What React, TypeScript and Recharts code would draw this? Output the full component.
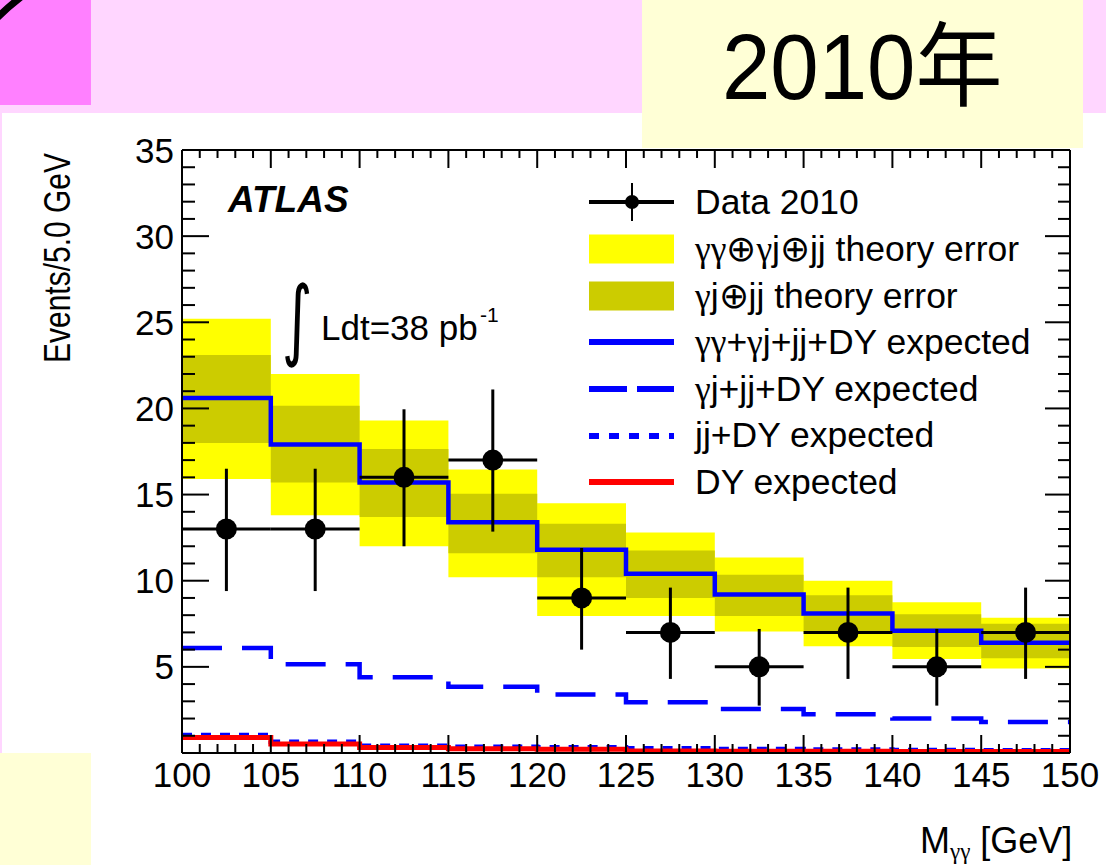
import React from "react";
import { ComposedChart, Area, Line, Scatter, ErrorBar, XAxis, YAxis } from "recharts";

const FONT = '"Liberation Sans", Arial, Helvetica, sans-serif';
const GREEK = '"Liberation Serif", "DejaVu Serif", serif';

// 5 GeV bins in diphoton mass
const binEdges = [100, 105, 110, 115, 120, 125, 130, 135, 140, 145, 150];

// expected yields per bin
const totalExpected = [20.6, 17.9, 15.7, 13.4, 11.8, 10.4, 9.2, 8.1, 7.1, 6.4];
const gjJjDyExpected = [6.1, 5.15, 4.4, 3.85, 3.4, 2.95, 2.55, 2.25, 2.0, 1.8];
const jjDyExpected = [1.05, 0.65, 0.42, 0.37, 0.33, 0.27, 0.23, 0.2, 0.18, 0.16];
const dyExpected = [0.9, 0.52, 0.32, 0.25, 0.22, 0.12, 0.1, 0.1, 0.09, 0.08];

// theory error bands (low / high edge per bin)
const fullErrLow = [15.9, 13.8, 12.0, 10.2, 7.95, 7.95, 7.05, 6.2, 5.45, 4.9];
const fullErrHigh = [25.2, 22.0, 19.3, 16.45, 14.5, 12.8, 11.35, 10.0, 8.75, 7.85];
const redErrLow = [18.0, 15.7, 13.7, 11.6, 10.2, 9.0, 7.95, 7.05, 6.15, 5.5];
const redErrHigh = [23.1, 20.15, 17.65, 15.05, 13.3, 11.75, 10.35, 9.15, 8.05, 7.5];

// Data 2010
const dataMass = [102.5, 107.5, 112.5, 117.5, 122.5, 127.5, 132.5, 137.5, 142.5, 147.5];
const dataEvents = [13, 13, 16, 17, 9, 7, 5, 7, 5, 7];
const dataErrDown = [3.6, 3.6, 4.0, 4.15, 3.0, 2.7, 2.25, 2.7, 2.25, 2.7];
const dataErrUp = [3.5, 3.5, 3.95, 4.1, 2.9, 2.6, 2.2, 2.6, 2.2, 2.6];
const halfBin = 2.5;

const xTicks = Array.from({ length: 51 }, (_, i) => 100 + i);
const yTicks = Array.from({ length: 36 }, (_, i) => i);

// step lines need the last bin value repeated at the closing edge
const histo = binEdges.map((x, i) => {
  const b = Math.min(i, totalExpected.length - 1);
  return {
    x,
    total: totalExpected[b],
    gjjj: gjJjDyExpected[b],
    jj: jjDyExpected[b],
    dy: dyExpected[b],
    full: [fullErrLow[b], fullErrHigh[b]],
    red: [redErrLow[b], redErrHigh[b]],
  };
});

const points = dataMass.map((x, i) => ({
  x,
  y: dataEvents[i],
  ex: halfBin,
  ey: [dataErrDown[i], dataErrUp[i]],
}));

const legendItems = [
  { kind: "data", label: "Data 2010" },
  { kind: "full", label: "γγ⊕γj⊕jj theory error" },
  { kind: "red", label: "γj⊕jj theory error" },
  { kind: "total", label: "γγ+γj+jj+DY expected" },
  { kind: "gjjj", label: "γj+jj+DY expected" },
  { kind: "jj", label: "jj+DY expected" },
  { kind: "dy", label: "DY expected" },
];

const isMajor = (v: number) => v % 5 === 0;

// gamma looks better in the serif face, like the ROOT symbol font
function withGreek(label: string) {
  return label.split(/(γ+)/).map((part, i) =>
    part.startsWith("γ") ? (
      <span key={i} style={{ fontFamily: GREEK }}>
        {part}
      </span>
    ) : (
      <React.Fragment key={i}>{part}</React.Fragment>
    )
  );
}

function LeftTick({ x, y, payload }: any) {
  const v = payload.value;
  return (
    <g>
      <line x1={x} x2={x + (isMajor(v) ? 27 : 13)} y1={y} y2={y} stroke="#000" strokeWidth={2} />
      {isMajor(v) && v > 0 && (
        <text x={x - 8} y={y} textAnchor="end" dominantBaseline="central" fontSize={35} fontFamily={FONT} fill="#000">
          {v}
        </text>
      )}
    </g>
  );
}

function RightTick({ x, y, payload }: any) {
  const v = payload.value;
  return <line x1={x} x2={x - (isMajor(v) ? 25 : 12)} y1={y} y2={y} stroke="#000" strokeWidth={2} />;
}

function BottomTick({ x, y, payload }: any) {
  const v = payload.value;
  return (
    <g>
      <line x1={x} x2={x} y1={y} y2={y - (isMajor(v) ? 18 : 9)} stroke="#000" strokeWidth={2} />
      {isMajor(v) && (
        <text x={x} y={y + 34} textAnchor="middle" fontSize={35} fontFamily={FONT} fill="#000">
          {v}
        </text>
      )}
    </g>
  );
}

function TopTick({ x, y, payload }: any) {
  const v = payload.value;
  return <line x1={x} x2={x} y1={y} y2={y + (isMajor(v) ? 18 : 8)} stroke="#000" strokeWidth={2} />;
}

const dataDot = (props: any) => <circle cx={props.cx} cy={props.cy} r={10.5} fill="#000" />;

function LegendSymbol({ kind }: { kind: string }) {
  const w = 85;
  const h = 46;
  const c = h / 2;
  switch (kind) {
    case "data":
      return (
        <svg width={w} height={h}>
          <line x1={0} x2={w} y1={c} y2={c} stroke="#000" strokeWidth={4} />
          <line x1={43} x2={43} y1={c - 19} y2={c + 19} stroke="#000" strokeWidth={2} />
          <circle cx={43} cy={c} r={7} fill="#000" />
        </svg>
      );
    case "full":
      return (
        <svg width={w} height={h}>
          <rect x={0} y={c - 14.5} width={w} height={29} fill="#FFFF00" />
        </svg>
      );
    case "red":
      return (
        <svg width={w} height={h}>
          <rect x={0} y={c - 14.5} width={w} height={29} fill="#CCCC00" />
        </svg>
      );
    case "total":
      return (
        <svg width={w} height={h}>
          <line x1={0} x2={w} y1={c} y2={c} stroke="#0000FF" strokeWidth={6} />
        </svg>
      );
    case "gjjj":
      return (
        <svg width={w} height={h}>
          <line x1={0} x2={w} y1={c} y2={c} stroke="#0000FF" strokeWidth={6} strokeDasharray="38 10" />
        </svg>
      );
    case "jj":
      return (
        <svg width={w} height={h}>
          <line x1={0} x2={w} y1={c} y2={c} stroke="#0000FF" strokeWidth={6} strokeDasharray="10 10" />
        </svg>
      );
    default:
      return (
        <svg width={w} height={h}>
          <line x1={0} x2={w} y1={c} y2={c} stroke="#FF0000" strokeWidth={6} />
        </svg>
      );
  }
}

export default function App() {
  return (
    <div
      style={{
        position: "absolute",
        left: 0,
        top: 0,
        width: 1106,
        height: 865,
        background: "#fff",
        overflow: "hidden",
        fontFamily: FONT,
      }}
    >
      {/* slide background */}
      <svg width={1106} height={865} style={{ position: "absolute", left: 0, top: 0 }}>
        <rect x={0} y={0} width={1106} height={113} fill="#FFD6FF" />
        <rect x={0} y={0} width={91} height={105} fill="#FF80FF" />
        <rect x={0} y={113} width={2} height={640} fill="#FFD6FF" />
        <rect x={0} y={753} width={91} height={112} fill="#FFFFD6" />
        <rect x={642} y={0} width={441} height={148} fill="#FFFFD6" />
        <path d="M -3 18 Q 8 7 21 -3" stroke="#000" strokeWidth={7} fill="none" />
        <text
          transform="translate(722,99) scale(1,1.06)"
          fontSize={87}
          fontFamily={'"Liberation Sans", "Noto Sans CJK JP", sans-serif'}
          fill="#000"
        >
          2010年
        </text>
      </svg>

      <div style={{ position: "absolute", left: 0, top: 0 }}>
        <ComposedChart width={1106} height={865} data={histo} margin={{ top: 120, right: 6, bottom: 82, left: 122 }}>
          <Area
            xAxisId="bottom"
            yAxisId="left"
            dataKey="full"
            type="stepAfter"
            fill="#FFFF00"
            fillOpacity={1}
            stroke="none"
            isAnimationActive={false}
          />
          <Area
            xAxisId="bottom"
            yAxisId="left"
            dataKey="red"
            type="stepAfter"
            fill="#CCCC00"
            fillOpacity={1}
            stroke="none"
            isAnimationActive={false}
          />
          <Line
            xAxisId="bottom"
            yAxisId="left"
            dataKey="total"
            type="stepAfter"
            stroke="#0000FF"
            strokeWidth={4.5}
            dot={false}
            isAnimationActive={false}
          />
          <Line
            xAxisId="bottom"
            yAxisId="left"
            dataKey="gjjj"
            type="stepAfter"
            stroke="#0000FF"
            strokeWidth={4.5}
            strokeDasharray="40 20"
            dot={false}
            isAnimationActive={false}
          />
          <Line
            xAxisId="bottom"
            yAxisId="left"
            dataKey="jj"
            type="stepAfter"
            stroke="#0000FF"
            strokeWidth={4.5}
            strokeDasharray="10 9"
            dot={false}
            isAnimationActive={false}
          />
          <Line
            xAxisId="bottom"
            yAxisId="left"
            dataKey="dy"
            type="stepAfter"
            stroke="#FF0000"
            strokeWidth={5}
            dot={false}
            isAnimationActive={false}
          />
          <Scatter xAxisId="bottom" yAxisId="left" data={points} dataKey="y" shape={dataDot} isAnimationActive={false}>
            <ErrorBar direction="x" dataKey="ex" width={0} stroke="#000" strokeWidth={3} isAnimationActive={false} />
            <ErrorBar direction="y" dataKey="ey" width={0} stroke="#000" strokeWidth={3} isAnimationActive={false} />
          </Scatter>

          <XAxis
            xAxisId="bottom"
            orientation="bottom"
            type="number"
            dataKey="x"
            domain={[100, 150]}
            ticks={xTicks}
            interval={0}
            height={30}
            tickSize={0}
            tickMargin={0}
            tickLine={false}
            axisLine={{ stroke: "#000", strokeWidth: 2 }}
            tick={(p: any) => <BottomTick {...p} />}
            allowDataOverflow
          />
          <XAxis
            xAxisId="top"
            orientation="top"
            type="number"
            dataKey="x"
            domain={[100, 150]}
            ticks={xTicks}
            interval={0}
            height={30}
            tickSize={0}
            tickMargin={0}
            tickLine={false}
            axisLine={{ stroke: "#000", strokeWidth: 2 }}
            tick={(p: any) => <TopTick {...p} />}
            allowDataOverflow
          />
          <YAxis
            yAxisId="left"
            orientation="left"
            type="number"
            domain={[0, 35]}
            ticks={yTicks}
            interval={0}
            width={60}
            tickSize={0}
            tickMargin={0}
            tickLine={false}
            axisLine={{ stroke: "#000", strokeWidth: 2 }}
            tick={(p: any) => <LeftTick {...p} />}
            allowDataOverflow
          />
          <YAxis
            yAxisId="right"
            orientation="right"
            type="number"
            domain={[0, 35]}
            ticks={yTicks}
            interval={0}
            width={30}
            tickSize={0}
            tickMargin={0}
            tickLine={false}
            axisLine={{ stroke: "#000", strokeWidth: 2 }}
            tick={(p: any) => <RightTick {...p} />}
            allowDataOverflow
          />
        </ComposedChart>
      </div>

      {/* plot annotations and axis titles */}
      <svg width={1106} height={865} style={{ position: "absolute", left: 0, top: 0, pointerEvents: "none" }}>
        <text x={228} y={212} fontSize={37} fontWeight="bold" fontStyle="italic" fontFamily={FONT} fill="#000">
          ATLAS
        </text>
        <text
          transform="translate(282,349) scale(0.7,1.05)"
          fontSize={84}
          fontFamily='"DejaVu Sans", sans-serif'
          fill="#000"
        >
          ∫
        </text>
        <text x={321} y={340} fontSize={35} fontFamily={FONT} fill="#000">
          Ldt=38 pb
        </text>
        <text x={480} y={322} fontSize={21} fontFamily={FONT} fill="#000">
          -1
        </text>
        <text
          transform="translate(70,258) rotate(-90) scale(1,1.2)"
          textAnchor="middle"
          fontSize={30}
          fontFamily={FONT}
          fill="#000"
        >
          Events/5.0 GeV
        </text>
        <text x={920} y={853} fontSize={36} fontFamily={FONT} fill="#000">
          M
          <tspan fontSize={23} dy={6} fontFamily={GREEK}>
            γγ
          </tspan>
          <tspan dy={-6}> [GeV]</tspan>
        </text>
      </svg>

      <div style={{ position: "absolute", left: 589, top: 179 }}>
        {legendItems.map((item) => (
          <div key={item.kind} style={{ display: "flex", alignItems: "center", height: 46.7 }}>
            <LegendSymbol kind={item.kind} />
            <span style={{ marginLeft: 21, fontSize: 35.5, color: "#000", whiteSpace: "nowrap" }}>
              {withGreek(item.label)}
            </span>
          </div>
        ))}
      </div>
    </div>
  );
}
